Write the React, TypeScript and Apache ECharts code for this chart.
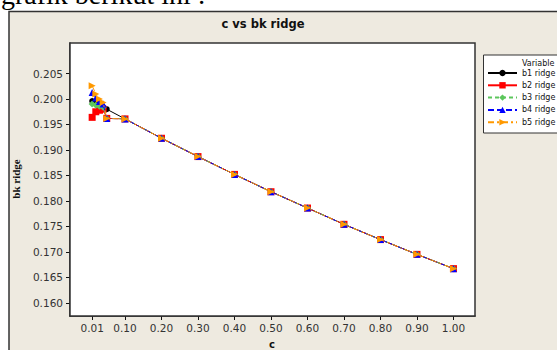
import React, { useEffect, useRef } from "react";
import * as echarts from "echarts";

const cValues = [0.01, 0.02, 0.03, 0.04, 0.05, 0.1, 0.2, 0.3, 0.4, 0.5, 0.6, 0.7, 0.8, 0.9, 1.0];
const b1Ridge = [0.1996, 0.1992, 0.1988, 0.1984, 0.198, 0.1961, 0.1923, 0.1887, 0.1852, 0.1818, 0.1786, 0.1754, 0.1724, 0.1695, 0.1667];
const b2Ridge = [0.1964, 0.1975, 0.1978, 0.198, 0.1962, 0.1961, 0.1923, 0.1887, 0.1852, 0.1818, 0.1786, 0.1754, 0.1724, 0.1695, 0.1667];
const b3Ridge = [0.199, 0.1988, 0.1986, 0.1984, 0.1962, 0.1961, 0.1923, 0.1887, 0.1852, 0.1818, 0.1786, 0.1754, 0.1724, 0.1695, 0.1667];
const b4Ridge = [0.2013, 0.2002, 0.1995, 0.199, 0.1962, 0.1961, 0.1923, 0.1887, 0.1852, 0.1818, 0.1786, 0.1754, 0.1724, 0.1695, 0.1667];
const b5Ridge = [0.2026, 0.201, 0.2, 0.1993, 0.1962, 0.1961, 0.1923, 0.1887, 0.1852, 0.1818, 0.1786, 0.1754, 0.1724, 0.1695, 0.1667];

const xTicks = [0.01, 0.1, 0.2, 0.3, 0.4, 0.5, 0.6, 0.7, 0.8, 0.9, 1.0];
const yTicks = [0.16, 0.165, 0.17, 0.175, 0.18, 0.185, 0.19, 0.195, 0.2, 0.205];

const seriesNames = ["b1 ridge", "b2 ridge", "b3 ridge", "b4 ridge", "b5 ridge"];
const seriesData = [b1Ridge, b2Ridge, b3Ridge, b4Ridge, b5Ridge];
const colors = ["#000000", "#ff0000", "#5cc65c", "#0000ff", "#ff9900"];
const symbols = ["circle", "rect", "diamond", "triangle", "triangle"];
const rotations = [0, 0, 0, 0, -90];
const lineTypes: any[] = ["solid", "solid", [4, 3], [6, 3], [6, 3, 2, 3]];

export default function App() {
  const ref = useRef<HTMLDivElement>(null);
  useEffect(() => {
    if (!ref.current) return;
    const chart = echarts.init(ref.current, null, { renderer: "svg" });
    const sans = "DejaVu Sans";
    chart.setOption({
      animation: false,
      backgroundColor: "#ffffff",
      grid: {
        left: 70,
        top: 43,
        right: 82,
        bottom: 34,
        show: true,
        backgroundColor: "#ffffff",
        borderColor: "#333333",
        borderWidth: 1.5,
        z: 1,
      },
      xAxis: {
        type: "value",
        min: -0.0507,
        max: 1.059,
        splitLine: { show: false },
        axisLine: { show: true, onZero: false, lineStyle: { color: "#111", width: 1.5 } },
        axisTick: { show: true, length: 4, customValues: xTicks, lineStyle: { color: "#111" } },
        axisLabel: {
          customValues: xTicks,
          formatter: (v: number) => v.toFixed(2),
          fontFamily: sans,
          fontSize: 10.5,
          color: "#333",
          margin: 6,
        },
      },
      yAxis: {
        type: "value",
        min: 0.1574,
        max: 0.211,
        splitLine: { show: false },
        axisLine: { show: true, onZero: false, lineStyle: { color: "#111", width: 1.5 } },
        axisTick: { show: true, length: 4, customValues: yTicks, lineStyle: { color: "#111" } },
        axisLabel: {
          customValues: yTicks,
          formatter: (v: number) => v.toFixed(3),
          fontFamily: sans,
          fontSize: 10.5,
          color: "#333",
          margin: 7,
        },
      },
      legend: {
        orient: "vertical",
        left: 487,
        top: 69,
        itemWidth: 29,
        itemHeight: 8,
        itemGap: 4.3,
        padding: 0,
        textStyle: { fontFamily: sans, fontSize: 8, color: "#111" },
        data: seriesNames,
        z: 6,
      },
      graphic: [
        {
          type: "text",
          x: 1,
          y: -6,
          z: 0,
          style: {
            text: "grafik berikut ini :",
            font: "28px 'Liberation Serif'",
            fill: "#000",
            verticalAlign: "middle",
          },
        },
        {
          type: "rect",
          z: -10,
          shape: { x: 9, y: 11.5, width: 600, height: 400 },
          style: { fill: "#eeeae0", stroke: "#333333", lineWidth: 1.5 },
        },
        {
          type: "text",
          x: 263,
          y: 24,
          z: 5,
          style: {
            text: "c vs bk ridge",
            font: "bold 11.5px 'DejaVu Sans'",
            fill: "#111",
            align: "center",
            verticalAlign: "middle",
          },
        },
        {
          type: "text",
          x: 272,
          y: 344,
          z: 5,
          style: {
            text: "c",
            font: "bold 10px 'DejaVu Sans'",
            fill: "#111",
            align: "center",
            verticalAlign: "middle",
          },
        },
        {
          type: "text",
          x: 16,
          y: 179,
          rotation: Math.PI / 2,
          z: 5,
          style: {
            text: "bk ridge",
            font: "bold 11px 'Liberation Serif'",
            fill: "#111",
            align: "center",
            verticalAlign: "middle",
          },
        },
        {
          type: "rect",
          z: 4,
          shape: { x: 483.5, y: 55, width: 100, height: 78 },
          style: { fill: "#ffffff", stroke: "#333333", lineWidth: 1 },
        },
        {
          type: "text",
          x: 522,
          y: 63,
          z: 6,
          style: {
            text: "Variable",
            font: "8px 'DejaVu Sans'",
            fill: "#111",
            verticalAlign: "middle",
          },
        },
      ],
      series: seriesNames.map((name, i) => ({
        name,
        type: "line",
        data: cValues.map((c, j) => [c, seriesData[i][j]]),
        symbol: symbols[i],
        symbolRotate: rotations[i],
        symbolSize: i === 0 ? 6 : 7,
        color: colors[i],
        lineStyle: { color: colors[i], width: 1, type: lineTypes[i] },
        itemStyle: { color: colors[i] },
        z: 2 + i,
      })),
    });
    return () => chart.dispose();
  }, []);
  return (
    <div
      ref={ref}
      style={{ position: "fixed", left: 0, top: 0, width: 557, height: 350 }}
    />
  );
}
